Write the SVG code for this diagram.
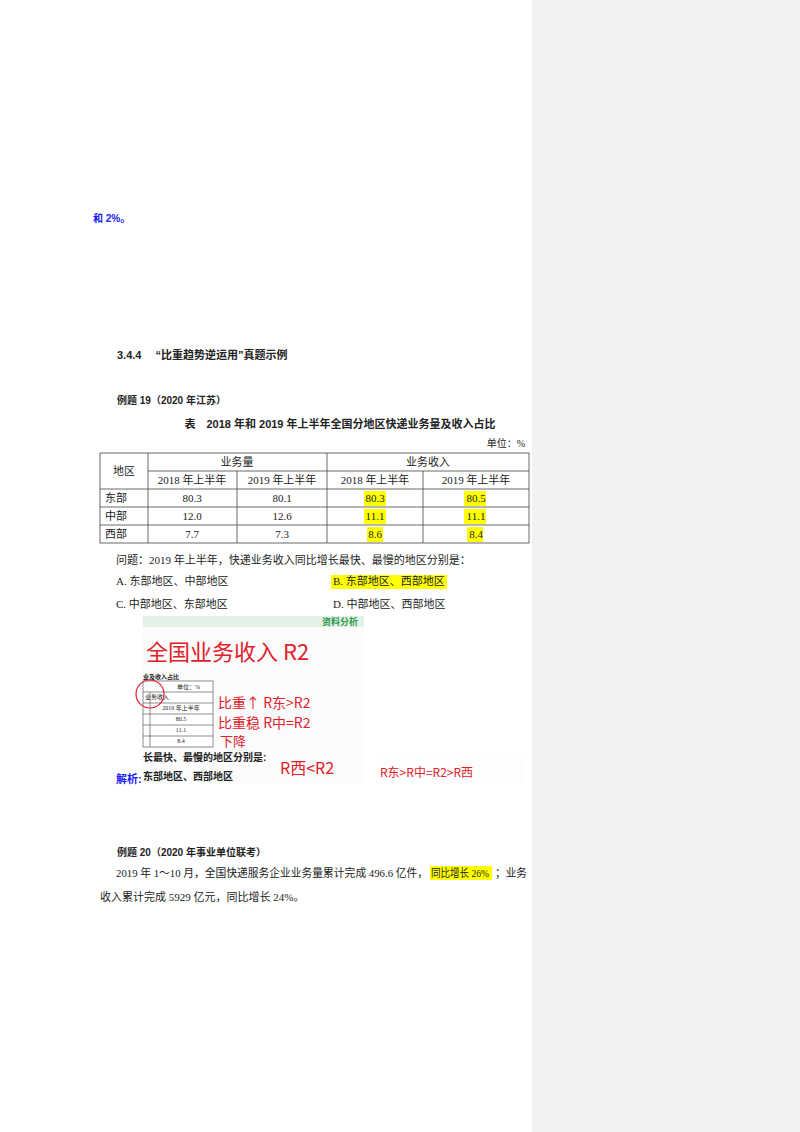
<svg xmlns="http://www.w3.org/2000/svg" width="800" height="1132" viewBox="0 0 800 1132">
<style>
text{font-family:"Liberation Serif","Noto Sans CJK SC",serif;font-size:11px;fill:#222}
.b{font-weight:bold;font-family:"Liberation Sans","Noto Sans CJK SC",sans-serif}
.c{text-anchor:middle}
.hl{fill:#ffff00}
.tl{stroke:#444;stroke-width:0.8;fill:none}
.hw{fill:#e0202a;font-family:"Noto Sans CJK SC",sans-serif}
</style>
<rect width="800" height="1132" fill="#fff"/>
<rect x="532" y="0" width="268" height="1132" fill="#f2f2f2"/>
<text x="93" y="222" class="b" style="fill:#1a1aff;font-size:10px">和 2%。</text>
<text x="117" y="359" class="b">3.4.4　 “比重趋势逆运用”真题示例</text>
<text x="117" y="404" class="b" style="font-size:10px">例题 19（2020 年江苏）</text>
<text x="340" y="428" class="b c">表　2018 年和 2019 年上半年全国分地区快递业务量及收入占比</text>
<text x="525" y="447" style="text-anchor:end;font-size:10px">单位：%</text>
<g id="table">
<rect class="hl" x="364" y="491" width="22" height="15"/>
<rect class="hl" x="464" y="491" width="22" height="15"/>
<rect class="hl" x="364" y="509" width="22" height="15"/>
<rect class="hl" x="464" y="509" width="22" height="15"/>
<rect class="hl" x="367" y="527" width="16" height="15"/>
<rect class="hl" x="467" y="527" width="16" height="15"/>
<rect class="tl" x="100" y="453" width="429" height="90"/>
<path class="tl" d="M148 471H529M100 489H529M100 507H529M100 525H529M148 453V543M237 471V543M327 453V543M423 471V543"/>
<text x="124" y="475" class="c">地区</text>
<text x="237" y="466" class="c">业务量</text>
<text x="428" y="466" class="c">业务收入</text>
<text x="192" y="484" class="c">2018 年上半年</text>
<text x="282" y="484" class="c">2019 年上半年</text>
<text x="375" y="484" class="c">2018 年上半年</text>
<text x="476" y="484" class="c">2019 年上半年</text>
<text x="116" y="502" class="c">东部</text><text x="192" y="502" class="c">80.3</text><text x="282" y="502" class="c">80.1</text><text x="375" y="502" class="c">80.3</text><text x="476" y="502" class="c">80.5</text>
<text x="116" y="520" class="c">中部</text><text x="192" y="520" class="c">12.0</text><text x="282" y="520" class="c">12.6</text><text x="375" y="520" class="c">11.1</text><text x="476" y="520" class="c">11.1</text>
<text x="116" y="538" class="c">西部</text><text x="192" y="538" class="c">7.7</text><text x="282" y="538" class="c">7.3</text><text x="375" y="538" class="c">8.6</text><text x="476" y="538" class="c">8.4</text>
</g>
<text x="116" y="564">问题：2019 年上半年，快递业务收入同比增长最快、最慢的地区分别是：</text>
<text x="116" y="585">A. 东部地区、中部地区</text>
<rect class="hl" x="331" y="575" width="116" height="14"/>
<text x="333" y="585">B. 东部地区、西部地区</text>
<text x="116" y="608">C. 中部地区、东部地区</text>
<text x="333" y="608">D. 中部地区、西部地区</text>
<g id="image">
<rect x="143" y="616" width="221" height="167" fill="#fbfbfb"/>
<rect x="143" y="616" width="221" height="11" fill="#e3f0e6"/>
<text x="340" y="625" class="c b" style="fill:#2a9a4a;font-size:9px">资料分析</text>
<text x="146" y="660" class="hw" style="font-size:22px">全国业务收入 R2</text>
<text x="143" y="679" class="b" style="font-size:6px">业及收入占比</text>
<rect x="143" y="681" width="70" height="66" fill="#fff" stroke="#444" stroke-width="0.6"/>
<path d="M143 692H213M143 703H213M143 714H213M143 725H213M143 736H213M150 692V747" stroke="#444" stroke-width="0.6"/>
<text x="200" y="689" style="font-size:6px;text-anchor:end">单位：%</text>
<text x="145" y="699" style="font-size:6px">业务收入</text>
<text x="181" y="710" class="c" style="font-size:6px">2019 年上半年</text>
<text x="181" y="721" class="c" style="font-size:6px">80.5</text>
<text x="181" y="732" class="c" style="font-size:6px">11.1</text>
<text x="181" y="743" class="c" style="font-size:6px">8.4</text>
<circle cx="150" cy="694" r="14" fill="none" stroke="#e0202a" stroke-width="1.2"/>
<text x="218" y="708" class="hw" style="font-size:14px">比重↑ R东&gt;R2</text>
<text x="218" y="728" class="hw" style="font-size:14px">比重稳 R中=R2</text>
<text x="220" y="746" class="hw" style="font-size:13px">下降</text>
<text x="143" y="761" class="b" style="font-size:10px">长最快、最慢的地区分别是:</text>
<text x="280" y="774" class="hw" style="font-size:16px">R西&lt;R2</text>
<text x="143" y="780" class="b" style="font-size:10px">东部地区、西部地区</text>
</g>
<text x="116" y="783" class="b" style="fill:#1a1aff;font-size:11px">解析:</text>
<rect x="376" y="758" width="147" height="25" fill="#fdfdfd"/>
<text x="380" y="777" class="hw" style="font-size:12px">R东&gt;R中=R2&gt;R西</text>
<text x="117" y="856" class="b" style="font-size:10px">例题 20（2020 年事业单位联考）</text>
<rect class="hl" x="430" y="866" width="62" height="14"/>
<text x="116" y="877" textLength="312" lengthAdjust="spacingAndGlyphs">2019 年 1～10 月，全国快递服务企业业务量累计完成 496.6 亿件，</text>
<text x="431" y="877" textLength="58" lengthAdjust="spacingAndGlyphs">同比增长 26%</text>
<text x="495" y="877" textLength="32" lengthAdjust="spacingAndGlyphs">；业务</text>
<text x="100" y="901">收入累计完成 5929 亿元，同比增长 24%。</text>
</svg>
